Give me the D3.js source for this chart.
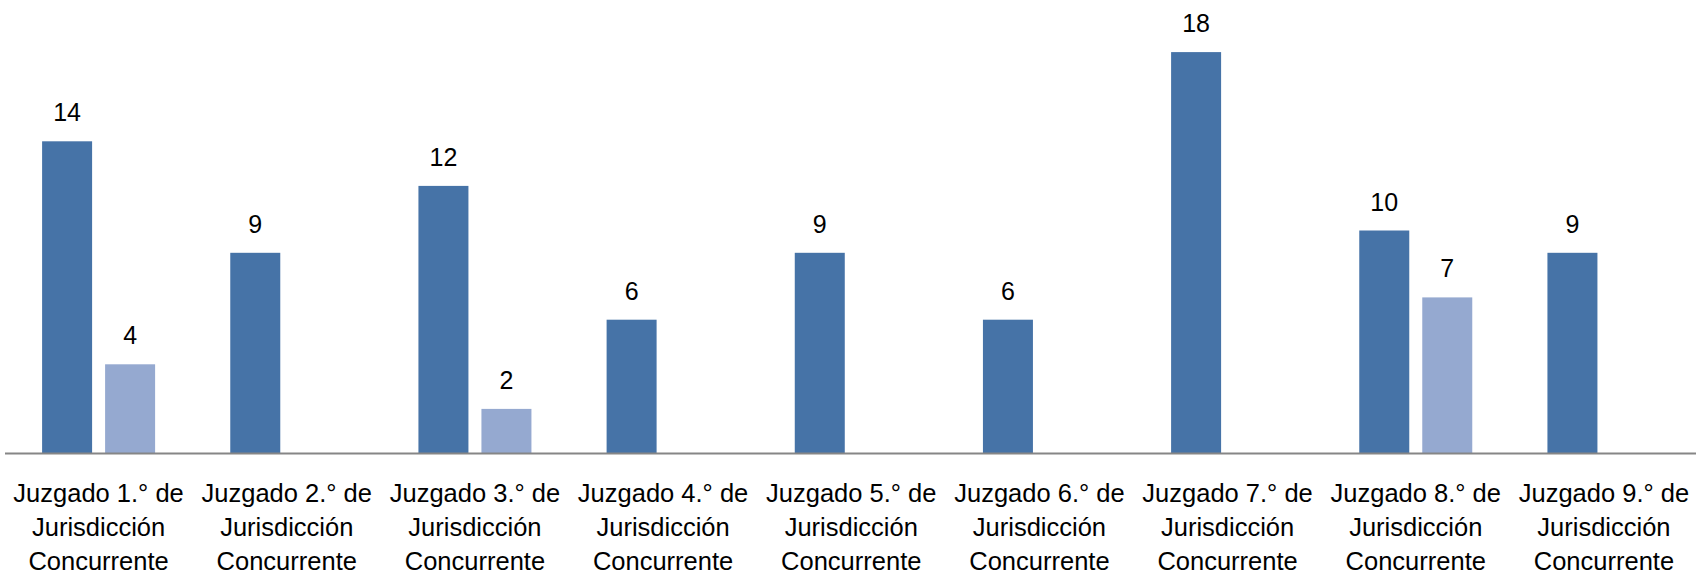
<!DOCTYPE html>
<html>
<head>
<meta charset="utf-8">
<script src="https://cdn.jsdelivr.net/npm/d3@7"></script>
<style>
  body { margin: 0; background: #fff; }
  text { font-family: "Liberation Sans", Arial, sans-serif; fill: #000; }
</style>
</head>
<body>
<script>
var categories = ["1", "2", "3", "4", "5", "6", "7", "8", "9"];
var tickLabels = [
    ["Juzgado 1.° de", "Jurisdicción", "Concurrente"],
    ["Juzgado 2.° de", "Jurisdicción", "Concurrente"],
    ["Juzgado 3.° de", "Jurisdicción", "Concurrente"],
    ["Juzgado 4.° de", "Jurisdicción", "Concurrente"],
    ["Juzgado 5.° de", "Jurisdicción", "Concurrente"],
    ["Juzgado 6.° de", "Jurisdicción", "Concurrente"],
    ["Juzgado 7.° de", "Jurisdicción", "Concurrente"],
    ["Juzgado 8.° de", "Jurisdicción", "Concurrente"],
    ["Juzgado 9.° de", "Jurisdicción", "Concurrente"]
];
var seriesA = [14, 9, 12, 6, 9, 6, 18, 10, 9];
var seriesB = [4, null, 2, null, null, null, null, 7, null];
var seriesColors = ["#4673a7", "#95a9d0"];

var width = 1696, height = 577;
var axisY = 453.5;

var svg = d3.select("body")
    .append("svg")
    .attr("width", width)
    .attr("height", height);

var x = d3.scaleBand()
    .domain(categories)
    .range([4.5, 1698]);

var x1 = d3.scaleBand()
    .domain([0, 1])
    .range([37.6, 150.6])
    .paddingInner(0.2063);

var y = d3.scaleLinear()
    .domain([0, 20])
    .range([axisY, axisY - 20 * 22.3]);

// build rows for both series
var rows = [];
categories.forEach(function (c, i) {
    [seriesA[i], seriesB[i]].forEach(function (v, s) {
        if (v != null) rows.push({ cat: c, s: s, v: v });
    });
});

svg.selectAll("rect.bar")
    .data(rows)
    .enter()
    .append("rect")
    .attr("class", "bar")
    .attr("x", function (d) { return x(d.cat) + x1(d.s); })
    .attr("y", function (d) { return y(d.v); })
    .attr("width", x1.bandwidth())
    .attr("height", function (d) { return y(0) - y(d.v); })
    .attr("fill", function (d) { return seriesColors[d.s]; });

// value labels
svg.selectAll("text.val")
    .data(rows)
    .enter()
    .append("text")
    .attr("class", "val")
    .attr("x", function (d) { return x(d.cat) + x1(d.s) + x1.bandwidth() / 2; })
    .attr("y", function (d) { return y(d.v) - 20; })
    .attr("text-anchor", "middle")
    .style("font-size", "25px")
    .text(function (d) { return d.v; });

// x axis
var axis = svg.append("g")
    .attr("transform", "translate(0," + axisY + ")")
    .call(d3.axisBottom(x).tickSize(0).tickFormat(""));
axis.select(".domain")
    .attr("stroke", "#868686")
    .attr("stroke-width", 2)
    .attr("d", "M5,0H1696");

// category labels (three lines each)
var lbl = svg.selectAll("text.cat")
    .data(categories)
    .enter()
    .append("text")
    .attr("class", "cat")
    .attr("text-anchor", "middle")
    .style("font-size", "25.5px");

lbl.selectAll("tspan")
    .data(function (d, i) { return tickLabels[i].map(function (t) { return { t: t, c: d }; }); })
    .enter()
    .append("tspan")
    .attr("x", function (d) { return x(d.c) + x.bandwidth() / 2; })
    .attr("y", function (d, j) { return 502 + j * 34; })
    .text(function (d) { return d.t; });
</script>
</body>
</html>
